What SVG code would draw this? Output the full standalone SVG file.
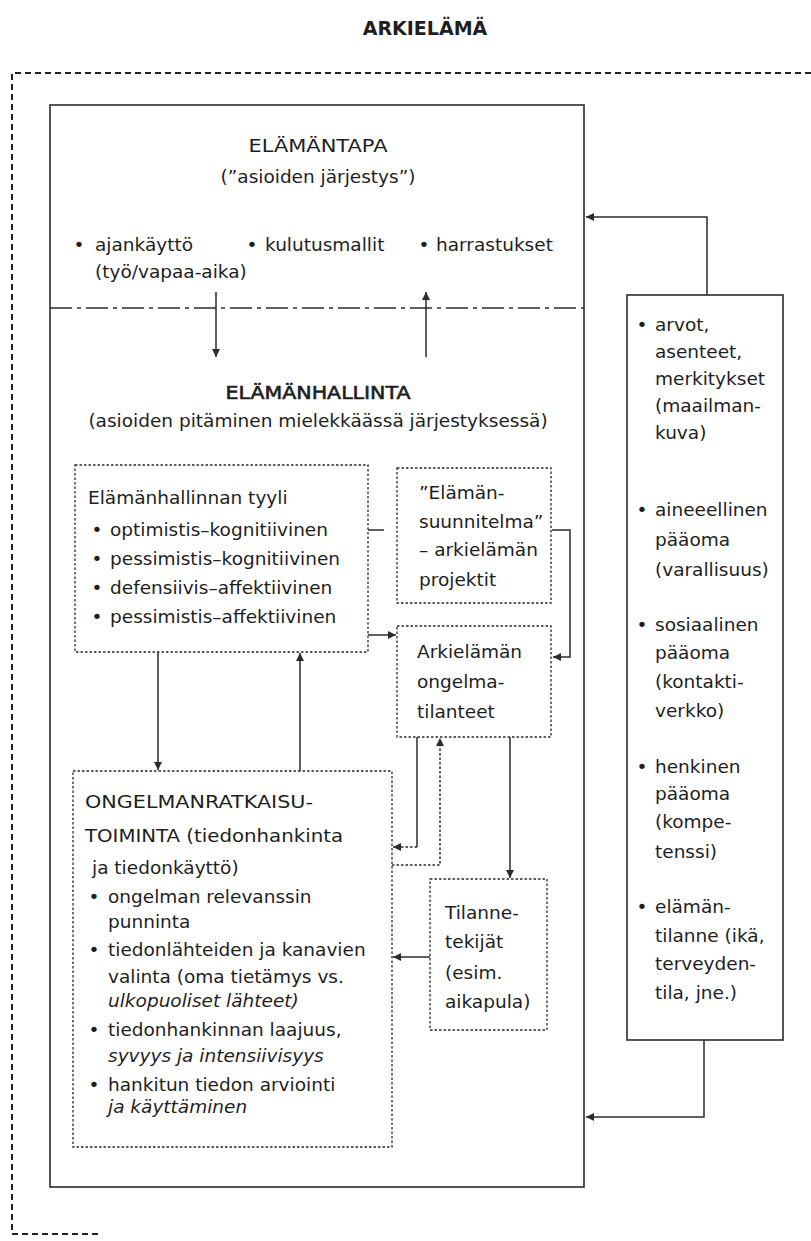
<svg xmlns="http://www.w3.org/2000/svg" width="811" height="1241" viewBox="0 0 811 1241">
<defs>
<style>
text{font-family:"DejaVu Sans","Liberation Sans",sans-serif;font-size:18.5px;fill:#1e1e1e}
.title{font-weight:bold;font-size:19px}
.mid{text-anchor:middle}
.strong{stroke:#1e1e1e;stroke-width:0.6}
.it{font-style:italic}
.solid{fill:none;stroke:#2b2b2b;stroke-width:1.6}
.dotted{fill:none;stroke:#2b2b2b;stroke-width:1.3;stroke-dasharray:2.5 2}
.outer{fill:none;stroke:#222;stroke-width:2;stroke-dasharray:6 4}
.dashdot{fill:none;stroke:#2b2b2b;stroke-width:1.3;stroke-dasharray:22 5 4 5}
.conn{fill:none;stroke:#2b2b2b;stroke-width:1.5}
.conn-dot{fill:none;stroke:#2b2b2b;stroke-width:1.5;stroke-dasharray:2.5 2}
</style>
<marker id="ah" viewBox="0 0 10 10" refX="10" refY="5" markerWidth="10" markerHeight="8" markerUnits="userSpaceOnUse" orient="auto">
<path d="M0,0 L10,5 L0,10 z" fill="#2b2b2b"/>
</marker>
</defs>
<rect x="0" y="0" width="811" height="1241" fill="#ffffff"/>

<g id="title">
<text class="title mid" x="425" y="35">ARKIELÄMÄ</text>
</g>

<g id="arkielama-frame">
<path class="outer" d="M811,73 H12 V1234 H100"/>
</g>

<g id="main-box">
<rect class="solid" x="50" y="105" width="534" height="1082"/>
<line class="dashdot" x1="50" y1="308" x2="584" y2="308"/>
</g>

<g id="elamantapa">
<text class="mid" x="318" y="152" textLength="139" lengthAdjust="spacingAndGlyphs">ELÄMÄNTAPA</text>
<text class="mid" x="318" y="183">(”asioiden järjestys”)</text>
<text x="73.5" y="251">•</text><text x="95" y="251">ajankäyttö</text>
<text x="95" y="278">(työ/vapaa-aika)</text>
<text x="246.5" y="251">•</text><text x="265" y="251">kulutusmallit</text>
<text x="418.5" y="251">•</text><text x="436" y="251">harrastukset</text>
</g>

<g id="elamanhallinta">
<text class="mid strong" x="318" y="399" textLength="185" lengthAdjust="spacingAndGlyphs">ELÄMÄNHALLINTA</text>
<text class="mid" x="318" y="427">(asioiden pitäminen mielekkäässä järjestyksessä)</text>
</g>

<g id="tyyli">
<rect class="dotted" x="75" y="465" width="293" height="187"/>
<text x="88" y="504">Elämänhallinnan tyyli</text>
<text x="91.5" y="536">•</text><text x="110" y="536">optimistis–kognitiivinen</text>
<text x="91.5" y="565">•</text><text x="110" y="565">pessimistis–kognitiivinen</text>
<text x="91.5" y="594">•</text><text x="110" y="594">defensiivis–affektiivinen</text>
<text x="91.5" y="623">•</text><text x="110" y="623">pessimistis–affektiivinen</text>
</g>

<g id="suunnitelma">
<rect class="dotted" x="397" y="468" width="154" height="135"/>
<text x="419" y="499">”Elämän-</text>
<text x="419" y="528">suunnitelma”</text>
<text x="419" y="556">– arkielämän</text>
<text x="419" y="586">projektit</text>
</g>

<g id="ongelmatilanteet">
<rect class="dotted" x="397" y="626" width="154" height="111"/>
<text x="417" y="658">Arkielämän</text>
<text x="417" y="688">ongelma-</text>
<text x="417" y="718">tilanteet</text>
</g>

<g id="ongelmanratkaisu">
<rect class="dotted" x="73" y="771" width="319" height="376"/>
<text x="85" y="808" textLength="228" lengthAdjust="spacingAndGlyphs">ONGELMANRATKAISU-</text>
<text x="85" y="842" textLength="258" lengthAdjust="spacingAndGlyphs">TOIMINTA (tiedonhankinta</text>
<text x="92" y="874">ja tiedonkäyttö)</text>
<text x="88.5" y="903">•</text><text x="108" y="903">ongelman relevanssin</text>
<text x="108" y="928">punninta</text>
<text x="88.5" y="956">•</text><text x="108" y="956">tiedonlähteiden ja kanavien</text>
<text x="108" y="983">valinta (oma tietämys vs.</text>
<text class="it" x="108" y="1007">ulkopuoliset lähteet)</text>
<text x="88.5" y="1036">•</text><text x="108" y="1036">tiedonhankinnan laajuus,</text>
<text class="it" x="108" y="1062">syvyys ja intensiivisyys</text>
<text x="88.5" y="1091">•</text><text x="108" y="1091">hankitun tiedon arviointi</text>
<text class="it" x="108" y="1113">ja käyttäminen</text>
</g>

<g id="tilannetekijat">
<rect class="dotted" x="430" y="879" width="117" height="151"/>
<text x="445" y="919">Tilanne-</text>
<text x="445" y="948">tekijät</text>
<text x="445" y="979">(esim.</text>
<text x="445" y="1008">aikapula)</text>
</g>

<g id="resurssit">
<rect class="solid" x="627" y="295" width="156" height="745"/>
<text x="636.5" y="331">•</text><text x="655" y="331">arvot,</text>
<text x="655" y="358">asenteet,</text>
<text x="655" y="385">merkitykset</text>
<text x="655" y="412">(maailman-</text>
<text x="655" y="439">kuva)</text>
<text x="636.5" y="516">•</text><text x="655" y="516">aineeellinen</text>
<text x="655" y="546">pääoma</text>
<text x="655" y="576">(varallisuus)</text>
<text x="636.5" y="631">•</text><text x="655" y="631">sosiaalinen</text>
<text x="655" y="659">pääoma</text>
<text x="655" y="688">(kontakti-</text>
<text x="655" y="717">verkko)</text>
<text x="636.5" y="773">•</text><text x="655" y="773">henkinen</text>
<text x="655" y="800">pääoma</text>
<text x="655" y="828">(kompe-</text>
<text x="655" y="858">tenssi)</text>
<text x="636.5" y="913">•</text><text x="655" y="913">elämän-</text>
<text x="655" y="942">tilanne (ikä,</text>
<text x="655" y="970">terveyden-</text>
<text x="655" y="999">tila, jne.)</text>
</g>

<g id="connectors">
<path class="conn" d="M216,292 V357" marker-end="url(#ah)"/>
<path class="conn" d="M426,357 V292" marker-end="url(#ah)"/>
<path class="conn" d="M707,295 V217 H586" marker-end="url(#ah)"/>
<path class="conn" d="M704,1040 V1117 H586" marker-end="url(#ah)"/>
<path class="conn" d="M368,635 H396" marker-end="url(#ah)"/>
<path class="conn" d="M368,530 H384"/>
<path class="conn" d="M552,530 H570 V657 H553" marker-end="url(#ah)"/>
<path class="conn" d="M158,652 V770" marker-end="url(#ah)"/>
<path class="conn" d="M300,771 V653" marker-end="url(#ah)"/>
<path class="conn" d="M417,737 V847"/>
<path class="conn-dot" d="M417,847 H393" marker-end="url(#ah)"/>
<path class="conn-dot" d="M392,865 H440 V738" marker-end="url(#ah)"/>
<path class="conn" d="M510,737 V878" marker-end="url(#ah)"/>
<path class="conn" d="M430,957 H393" marker-end="url(#ah)"/>
</g>
</svg>
